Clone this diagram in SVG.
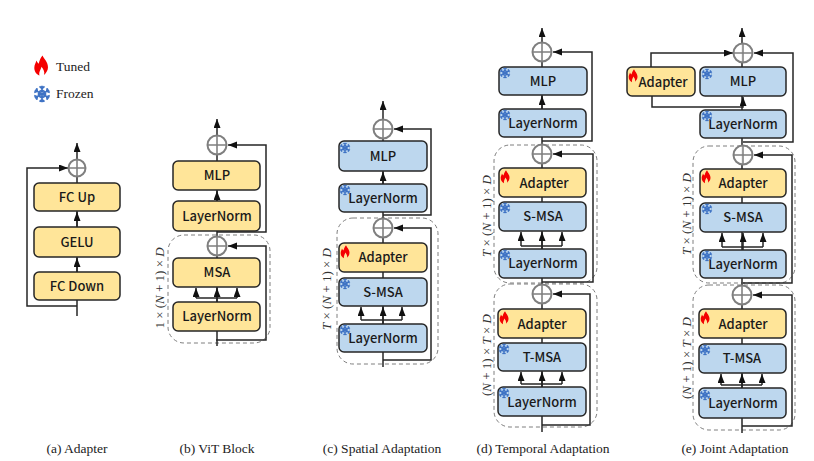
<svg xmlns="http://www.w3.org/2000/svg" xmlns:xlink="http://www.w3.org/1999/xlink" width="814" height="461" viewBox="0 0 814 461">
<style>
text{font-family:"Noto Sans CJK SC","Noto Sans",sans-serif;font-weight:500;font-size:13px;fill:#1a1a1a;text-anchor:middle}
.y{fill:#ffe599;stroke:#262626;stroke-width:1.5}
.b{fill:#bdd7ee;stroke:#262626;stroke-width:1.5}
.c{fill:none;stroke:#262626;stroke-width:1.5}
.a{fill:none;stroke:#262626;stroke-width:1.5;marker-end:url(#ah)}
.d{fill:none;stroke:#7f7f7f;stroke-width:1;stroke-dasharray:4 3}
.o{fill:#fff;fill-opacity:.9;stroke:#7f7f7f;stroke-width:2}
.cap,.leg,.dim{font-family:"Liberation Serif",serif;font-weight:400;fill:#222}
.cap{font-size:13.5px}
.leg{font-size:13.5px;text-anchor:start}
.dim{font-size:13px;fill:#333}
.i{font-style:italic}
</style>
<defs>
<marker id="ah" markerUnits="userSpaceOnUse" markerWidth="12" markerHeight="10" refX="9" refY="3.500" orient="auto"><path d="M0 0L9 3.500L0 7Z" fill="#111"/></marker>
<g id="flame"><path d="M1 -6.800C1.800 -4.500 4.500 -3 4.500 0.800C4.500 2.800 3.500 4.200 2 5.800C2.500 3.500 1.500 2 0.300 0.500C0 2.500 -1.500 3.500 -1 6.200C-3 5.200 -4.500 3.500 -4.300 0.800C-4.200 -1 -3.300 -2 -3 -3.500C-2.500 -2.500 -2.200 -2 -1.500 -1.500C-1 -3.500 -0.300 -5.300 1 -6.800Z" fill="#f40000"/></g>
<g id="snow" fill="none" stroke="#3f73c4" stroke-width="1.100">
<path id="arm" d="M0 0V-5.300M-1.600 -4.900L0 -3.500L1.600 -4.900M-1.200 -2.400L0 -1.400L1.200 -2.400"/>
<use xlink:href="#arm" href="#arm" transform="rotate(60)"/><use xlink:href="#arm" href="#arm" transform="rotate(120)"/><use xlink:href="#arm" href="#arm" transform="rotate(180)"/><use xlink:href="#arm" href="#arm" transform="rotate(240)"/><use xlink:href="#arm" href="#arm" transform="rotate(300)"/>
</g>
</defs>

<g id="regions">
<rect class="d" x="168" y="235" width="102" height="108" rx="16"/>
<rect class="d" x="337" y="218" width="101" height="146" rx="16"/>
<rect class="d" x="494" y="145" width="103" height="138" rx="16"/>
<rect class="d" x="494" y="284" width="103" height="143" rx="16"/>
<rect class="d" x="693" y="146" width="102" height="137" rx="16"/>
<rect class="d" x="693" y="285" width="102" height="145" rx="16"/>
</g>

<g id="connectors">
<!-- a -->
<path class="a" d="M77 316V143"/>
<path class="a" d="M77 306H27V168H68"/>
<path class="a" d="M77 272V258"/><path class="a" d="M77 227V212"/>
<!-- b -->
<path class="a" d="M217 346V119"/>
<path class="a" d="M217 232H266V145H228"/>
<path class="a" d="M216 340H266V246H228"/>
<path class="a" d="M217 201V191"/>
<path class="a" d="M196 298V288"/><path class="a" d="M237 298V288"/><path class="a" d="M217 302V288"/>
<path class="c" d="M196 298H237"/>
<!-- c -->
<path class="a" d="M383 367V101"/>
<path class="a" d="M383 215H431V129H394"/>
<path class="a" d="M383 360H431V228H394"/>
<path class="a" d="M383 184V172"/>
<path class="a" d="M361 320V307"/><path class="a" d="M402 320V307"/><path class="a" d="M383 324V307"/>
<path class="c" d="M361 320H402"/>
<!-- d -->
<path class="a" d="M542 432V28"/>
<path class="a" d="M542 141H592V52H553"/>
<path class="a" d="M542 282H593V154H553"/>
<path class="a" d="M542 425H590V294H553"/>
<path class="a" d="M542 109V96"/>
<path class="a" d="M521 246V232"/><path class="a" d="M562 246V232"/><path class="a" d="M542 249V232"/>
<path class="c" d="M521 246H562"/>
<path class="a" d="M521 384V372"/><path class="a" d="M562 384V372"/><path class="a" d="M542 387V372"/>
<path class="c" d="M521 384H562"/>
<!-- e -->
<path class="a" d="M742 433V28"/>
<path class="a" d="M743 142H793V53H754"/>
<path class="a" d="M651 67V53H733"/>
<path class="a" d="M652 96V107H743V97"/>
<path class="a" d="M743 283H792V155H754"/>
<path class="a" d="M742 426H792V295H753"/>
<path class="a" d="M722 247V233"/><path class="a" d="M763 247V233"/><path class="a" d="M743 250V233"/>
<path class="c" d="M722 247H763"/>
<path class="a" d="M721 385V374"/><path class="a" d="M762 385V374"/><path class="a" d="M742 388V374"/>
<path class="c" d="M721 385H762"/>
</g>

<g id="legend">
<use href="#flame" xlink:href="#flame" transform="translate(41 66) scale(1.550)"/><text class="leg" x="56" y="71">Tuned</text>
<use href="#snow" xlink:href="#snow" transform="translate(42 94) scale(1.550)"/><text class="leg" x="56" y="98">Frozen</text>
</g>

<g id="a-add"><circle class="o" cx="77" cy="168" r="8.500"/><path class="c" style="stroke:#7f7f7f" d="M68 168H86M77 159V177"/></g>
<g id="a-fcup"><rect class="y" x="34" y="183" width="86" height="28" rx="5"/><text x="77" y="202">FC Up</text></g>
<g id="a-gelu"><rect class="y" x="34" y="227" width="86" height="30" rx="5"/><text x="77" y="247">GELU</text></g>
<g id="a-fcdown"><rect class="y" x="34" y="272" width="86" height="28" rx="5"/><text x="77" y="291">FC Down</text></g>

<g id="b-add2"><circle class="o" cx="217" cy="145" r="9.500"/><path class="c" style="stroke:#7f7f7f" d="M207 145H227M217 135V155"/></g>
<g id="b-mlp"><rect class="y" x="173" y="161" width="87" height="29" rx="5"/><text x="217" y="180">MLP</text></g>
<g id="b-ln2"><rect class="y" x="173" y="201" width="87" height="30" rx="5"/><text x="217" y="221">LayerNorm</text></g>
<g id="b-add1"><circle class="o" cx="217" cy="246" r="9.500"/><path class="c" style="stroke:#7f7f7f" d="M207 246H227M217 236V256"/></g>
<g id="b-msa"><rect class="y" x="173" y="258" width="87" height="29" rx="5"/><text x="217" y="277">MSA</text></g>
<g id="b-ln1"><rect class="y" x="173" y="302" width="87" height="29" rx="5"/><text x="217" y="321">LayerNorm</text></g>

<g id="c-add2"><circle class="o" cx="383" cy="129" r="9.500"/><path class="c" style="stroke:#7f7f7f" d="M373 129H393M383 119V139"/></g>
<g id="c-mlp"><rect class="b" x="339" y="141" width="88" height="30" rx="5"/><text x="383" y="161">MLP</text><use href="#snow" xlink:href="#snow" x="345" y="148"/></g>
<g id="c-ln2"><rect class="b" x="339" y="184" width="88" height="28" rx="5"/><text x="383" y="203">LayerNorm</text><use href="#snow" xlink:href="#snow" x="345" y="190"/></g>
<g id="c-add1"><circle class="o" cx="383" cy="228" r="9.500"/><path class="c" style="stroke:#7f7f7f" d="M373 228H393M383 218V238"/></g>
<g id="c-adapter"><rect class="y" x="339" y="243" width="88" height="29" rx="5"/><text x="383" y="262">Adapter</text><use href="#flame" xlink:href="#flame" x="345" y="252"/></g>
<g id="c-smsa"><rect class="b" x="339" y="278" width="88" height="28" rx="5"/><text x="383" y="297">S-MSA</text><use href="#snow" xlink:href="#snow" x="345" y="284"/></g>
<g id="c-ln1"><rect class="b" x="339" y="324" width="88" height="28" rx="5"/><text x="383" y="343">LayerNorm</text><use href="#snow" xlink:href="#snow" x="345" y="330"/></g>

<g id="d-add3"><circle class="o" cx="542" cy="52" r="9.500"/><path class="c" style="stroke:#7f7f7f" d="M532 52H552M542 42V62"/></g>
<g id="d-mlp"><rect class="b" x="499" y="67" width="88" height="28" rx="5"/><text x="543" y="86">MLP</text><use href="#snow" xlink:href="#snow" x="505" y="73"/></g>
<g id="d-ln3"><rect class="b" x="499" y="109" width="87" height="28" rx="5"/><text x="543" y="128">LayerNorm</text><use href="#snow" xlink:href="#snow" x="505" y="115"/></g>
<g id="d-add2"><circle class="o" cx="542" cy="154" r="9.500"/><path class="c" style="stroke:#7f7f7f" d="M532 154H552M542 144V164"/></g>
<g id="d-adapter2"><rect class="y" x="499" y="168" width="87" height="29" rx="5"/><text x="544" y="188">Adapter</text><use href="#flame" xlink:href="#flame" x="505" y="177"/></g>
<g id="d-smsa"><rect class="b" x="499" y="202" width="87" height="29" rx="5"/><text x="543" y="221">S-MSA</text><use href="#snow" xlink:href="#snow" x="505" y="208"/></g>
<g id="d-ln2"><rect class="b" x="499" y="249" width="87" height="29" rx="5"/><text x="543" y="268">LayerNorm</text><use href="#snow" xlink:href="#snow" x="505" y="255"/></g>
<g id="d-add1"><circle class="o" cx="542" cy="294" r="9.500"/><path class="c" style="stroke:#7f7f7f" d="M532 294H552M542 284V304"/></g>
<g id="d-adapter1"><rect class="y" x="498" y="309" width="88" height="29" rx="5"/><text x="542" y="329">Adapter</text><use href="#flame" xlink:href="#flame" x="504" y="318"/></g>
<g id="d-tmsa"><rect class="b" x="498" y="343" width="88" height="28" rx="5"/><text x="542" y="362">T-MSA</text><use href="#snow" xlink:href="#snow" x="504" y="349"/></g>
<g id="d-ln1"><rect class="b" x="498" y="387" width="88" height="29" rx="5"/><text x="542" y="407">LayerNorm</text><use href="#snow" xlink:href="#snow" x="504" y="393"/></g>

<g id="e-add3"><circle class="o" cx="743" cy="53" r="9.500"/><path class="c" style="stroke:#7f7f7f" d="M733 53H753M743 43V63"/></g>
<g id="e-adapter3"><rect class="y" x="627" y="67" width="68" height="29" rx="5"/><text x="663" y="87">Adapter</text><use href="#flame" xlink:href="#flame" x="633" y="76"/></g>
<g id="e-mlp"><rect class="b" x="700" y="67" width="86" height="29" rx="5"/><text x="743" y="86">MLP</text><use href="#snow" xlink:href="#snow" x="707" y="74"/></g>
<g id="e-ln3"><rect class="b" x="700" y="110" width="86" height="28" rx="5"/><text x="743" y="129">LayerNorm</text><use href="#snow" xlink:href="#snow" x="707" y="116"/></g>
<g id="e-add2"><circle class="o" cx="743" cy="155" r="9.500"/><path class="c" style="stroke:#7f7f7f" d="M733 155H753M743 145V165"/></g>
<g id="e-adapter2"><rect class="y" x="700" y="169" width="86" height="28" rx="5"/><text x="743" y="188">Adapter</text><use href="#flame" xlink:href="#flame" x="706" y="177"/></g>
<g id="e-smsa"><rect class="b" x="700" y="203" width="86" height="29" rx="5"/><text x="743" y="222">S-MSA</text><use href="#snow" xlink:href="#snow" x="707" y="209"/></g>
<g id="e-ln2"><rect class="b" x="700" y="250" width="86" height="28" rx="5"/><text x="743" y="269">LayerNorm</text><use href="#snow" xlink:href="#snow" x="707" y="256"/></g>
<g id="e-add1"><circle class="o" cx="742" cy="295" r="9.500"/><path class="c" style="stroke:#7f7f7f" d="M732 295H752M742 285V305"/></g>
<g id="e-adapter1"><rect class="y" x="699" y="309" width="87" height="29" rx="5"/><text x="743" y="329">Adapter</text><use href="#flame" xlink:href="#flame" x="705" y="318"/></g>
<g id="e-tmsa"><rect class="b" x="699" y="344" width="87" height="29" rx="5"/><text x="742" y="363">T-MSA</text><use href="#snow" xlink:href="#snow" x="705" y="350"/></g>
<g id="e-ln1"><rect class="b" x="699" y="388" width="87" height="30" rx="5"/><text x="743" y="408">LayerNorm</text><use href="#snow" xlink:href="#snow" x="705" y="395"/></g>

<g id="dims">
<text class="dim" transform="translate(164 288) rotate(-90)">1 × (<tspan class="i">N</tspan> + 1) × <tspan class="i">D</tspan></text>
<text class="dim" transform="translate(331 289) rotate(-90)"><tspan class="i">T</tspan> × (<tspan class="i">N</tspan> + 1) × <tspan class="i">D</tspan></text>
<text class="dim" transform="translate(491 216) rotate(-90)"><tspan class="i">T</tspan> × (<tspan class="i">N</tspan> + 1) × <tspan class="i">D</tspan></text>
<text class="dim" transform="translate(491 355) rotate(-90)">(<tspan class="i">N</tspan> + 1) × <tspan class="i">T</tspan> × <tspan class="i">D</tspan></text>
<text class="dim" transform="translate(691 214) rotate(-90)"><tspan class="i">T</tspan> × (<tspan class="i">N</tspan> + 1) × <tspan class="i">D</tspan></text>
<text class="dim" transform="translate(691 358) rotate(-90)">(<tspan class="i">N</tspan> + 1) × <tspan class="i">T</tspan> × <tspan class="i">D</tspan></text>
</g>

<g id="captions">
<text class="cap" x="77" y="453">(a) Adapter</text>
<text class="cap" x="217" y="453">(b) ViT Block</text>
<text class="cap" x="382" y="453">(c) Spatial Adaptation</text>
<text class="cap" x="543" y="453">(d) Temporal Adaptation</text>
<text class="cap" x="735" y="453">(e) Joint Adaptation</text>
</g>
</svg>
